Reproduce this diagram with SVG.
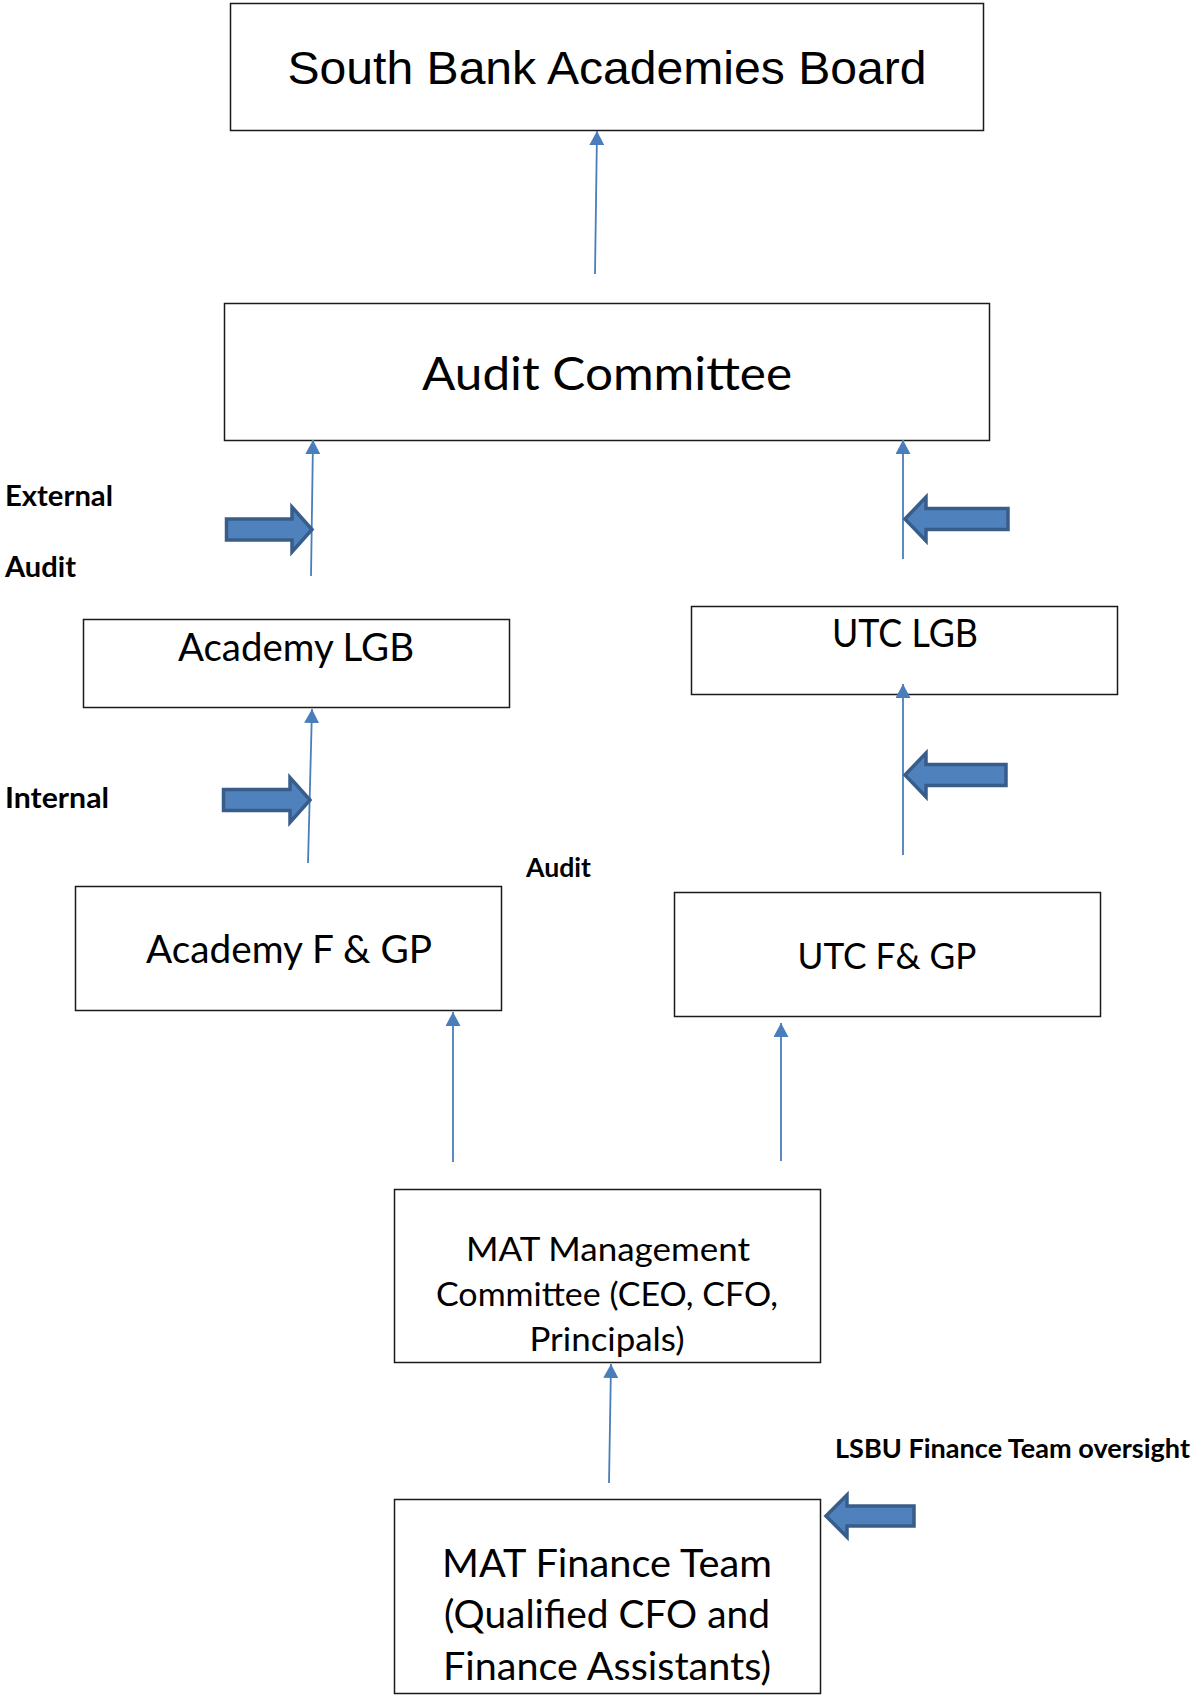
<svg xmlns="http://www.w3.org/2000/svg" width="1195" height="1695" viewBox="0 0 1195 1695">
<style>
.box{fill:#fff;stroke:#1a1a1a;stroke-width:1.5}
.t{font-family:Lato,"Open Sans",sans-serif;fill:#000;text-anchor:middle}
.ta{font-family:"Liberation Sans",Arial,sans-serif;fill:#000;text-anchor:middle}
.lb{font-family:Lato,"Open Sans",sans-serif;font-weight:bold;fill:#000}
.con{stroke:#4a7ebb;stroke-width:1.8;fill:none}
.blk{fill:#4f81bd;stroke:#385d8a;stroke-width:3.5;stroke-linejoin:miter}
</style>
<defs>
<marker id="ah" viewBox="0 0 14 15" refX="14" refY="7.5" markerWidth="14" markerHeight="15" markerUnits="userSpaceOnUse" orient="auto">
<path d="M0,0 L14,7.5 L0,15 z" fill="#4a7ebb"/>
</marker>
</defs>
<rect width="1195" height="1695" fill="#fff"/>

<g id="board">
<rect class="box" x="230.5" y="3.5" width="753" height="127"/>
<text class="ta" x="607" y="84" font-size="47" textLength="639" lengthAdjust="spacingAndGlyphs">South Bank Academies Board</text>
</g>

<g id="audit-committee">
<rect class="box" x="224.5" y="303.5" width="765" height="137"/>
<text class="t" x="607" y="390" font-size="46" textLength="370" lengthAdjust="spacingAndGlyphs">Audit Committee</text>
</g>

<g id="academy-lgb">
<rect class="box" x="83.5" y="619.5" width="426" height="88"/>
<text class="t" x="296" y="661" font-size="38" textLength="236" lengthAdjust="spacingAndGlyphs">Academy LGB</text>
</g>

<g id="utc-lgb">
<rect class="box" x="691.5" y="606.5" width="426" height="88"/>
<text class="t" x="905" y="647" font-size="38" textLength="146" lengthAdjust="spacingAndGlyphs">UTC LGB</text>
</g>

<g id="academy-fgp">
<rect class="box" x="75.5" y="886.5" width="426" height="124"/>
<text class="t" x="289" y="963" font-size="38" textLength="286" lengthAdjust="spacingAndGlyphs">Academy F &amp; GP</text>
</g>

<g id="utc-fgp">
<rect class="box" x="674.5" y="892.5" width="426" height="124"/>
<text class="t" x="887" y="969" font-size="37" textLength="179" lengthAdjust="spacingAndGlyphs">UTC F&amp; GP</text>
</g>

<g id="mat-management">
<rect class="box" x="394.5" y="1189.5" width="426" height="173"/>
<text class="t" x="608" y="1261" font-size="33.5" textLength="284" lengthAdjust="spacingAndGlyphs">MAT Management</text>
<text class="t" x="607" y="1306" font-size="33.5" textLength="342" lengthAdjust="spacingAndGlyphs">Committee (CEO, CFO,</text>
<text class="t" x="607" y="1351" font-size="33.5" textLength="155" lengthAdjust="spacingAndGlyphs">Principals)</text>
</g>

<g id="mat-finance">
<rect class="box" x="394.5" y="1499.5" width="426" height="194"/>
<text class="t" x="607" y="1577" font-size="38" textLength="330" lengthAdjust="spacingAndGlyphs">MAT Finance Team</text>
<text class="t" x="607" y="1628" font-size="38" textLength="326" lengthAdjust="spacingAndGlyphs">(Qualified CFO and</text>
<text class="t" x="607" y="1680" font-size="38" textLength="328" lengthAdjust="spacingAndGlyphs">Finance Assistants)</text>
</g>

<g id="labels">
<text class="lb" x="5" y="506" font-size="28" textLength="108" lengthAdjust="spacingAndGlyphs">External</text>
<text class="lb" x="5" y="577" font-size="28" textLength="71" lengthAdjust="spacingAndGlyphs">Audit</text>
<text class="lb" x="5" y="808" font-size="28" textLength="104" lengthAdjust="spacingAndGlyphs">Internal</text>
<text class="lb" x="526" y="877" font-size="26" textLength="65" lengthAdjust="spacingAndGlyphs">Audit</text>
<text class="lb" x="835" y="1458" font-size="26" textLength="355" lengthAdjust="spacingAndGlyphs">LSBU Finance Team oversight</text>
</g>

<g id="connectors">
<line class="con" x1="595" y1="274" x2="597" y2="131" marker-end="url(#ah)"/>
<line class="con" x1="311" y1="576" x2="313" y2="440" marker-end="url(#ah)"/>
<line class="con" x1="308" y1="863" x2="312" y2="709" marker-end="url(#ah)"/>
<line class="con" x1="903" y1="559" x2="903" y2="440" marker-end="url(#ah)"/>
<line class="con" x1="903" y1="855" x2="903" y2="684" marker-end="url(#ah)"/>
<line class="con" x1="453" y1="1162" x2="453" y2="1012" marker-end="url(#ah)"/>
<line class="con" x1="781" y1="1161" x2="781" y2="1023" marker-end="url(#ah)"/>
<line class="con" x1="609" y1="1483" x2="611" y2="1364" marker-end="url(#ah)"/>
</g>

<g id="block-arrows">
<polygon class="blk" points="226.5,519 292,519 292,507 312,529.5 292,552 292,540 226.5,540"/>
<polygon class="blk" points="223.5,789.5 290,789.5 290,777.5 310,800 290,822.5 290,810.5 223.5,810.5"/>
<polygon class="blk" points="905,519 926,497 926,508.5 1008,508.5 1008,529.5 926,529.5 926,541"/>
<polygon class="blk" points="905,775 926,753 926,764.5 1006,764.5 1006,785.5 926,785.5 926,797"/>
<polygon class="blk" points="826,1516 847,1495 847,1506 914,1506 914,1526 847,1526 847,1537"/>
</g>
</svg>
